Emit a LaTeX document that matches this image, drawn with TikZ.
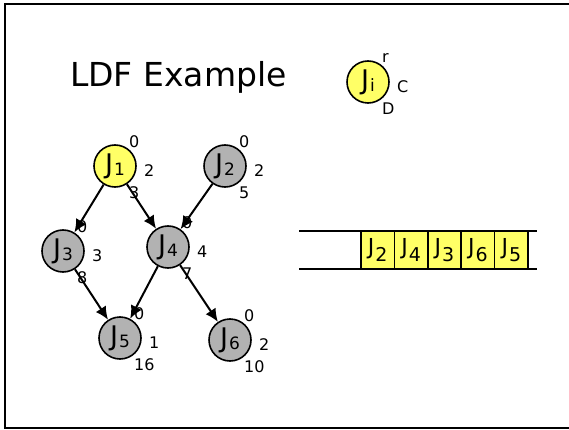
\documentclass[tikz,border=0pt]{standalone}
\usepackage{fontspec}
\setmainfont{DejaVu Sans}
\usepackage{xcolor}
\usetikzlibrary{arrows.meta,calc}
\definecolor{job-yellow}{RGB}{255,255,102}
\definecolor{job-gray}{RGB}{178,178,178}
\tikzstyle{job}=[circle, draw, line width=1.6pt, minimum size=42pt, inner sep=0pt, font=\fontsize{27}{27}\selectfont]
\tikzstyle{ready}=[fill=job-yellow]
\tikzstyle{waiting}=[fill=job-gray]
\tikzstyle{num}=[anchor=west, inner sep=0pt, font=\fontsize{16}{16}\selectfont]
\tikzstyle{dep}=[line width=2pt, -{Latex[length=13pt,width=12pt]}]
\tikzstyle{slot}=[draw, line width=1.5pt, fill=job-yellow, minimum width=33.4pt, minimum height=38pt, inner sep=0pt, font=\fontsize{22}{22}\selectfont]
\newcommand{\jlabel}[3]{J\kern1pt\raisebox{#3}{\fontsize{#2}{#2}\selectfont #1}}
\newcommand{\jobNode}[7]{
	\node[job, #3] (#1) at #2 {\jlabel{#4}{17}{-2pt}};
	\node[num] (#1r) at ($#2+(14,-24)$) {#5};
	\node[num] (#1C) at ($#2+(29,5)$) {#6};
	\node[num] (#1D) at ($#2+(14,27)$) {#7};
}

\begin{document}
\begin{tikzpicture}[x=1pt,y=-1pt]
	\useasboundingbox (0,0) rectangle (569,430);
	\draw[line width=2.2pt] (575,4) -- (5,4) -- (5,428) -- (575,428);
	\node[anchor=base west, inner sep=0pt, font=\fontsize{33}{33}\selectfont] (title) at (70,87) {LDF Example};
	% legend
	\jobNode{Ji}{(368,82)}{ready}{i}{r}{C}{D}
	% precedence graph
	\jobNode{J1}{(115,166)}{ready}{1}{0}{2}{3}
	\jobNode{J2}{(225,166)}{waiting}{2}{0}{2}{5}
	\jobNode{J3}{(63,251)}{waiting}{3}{0}{3}{8}
	\jobNode{J4}{(168,247)}{waiting}{4}{0}{4}{7}
	\jobNode{J5}{(120,338)}{waiting}{5}{0}{1}{16}
	\jobNode{J6}{(230,340)}{waiting}{6}{0}{2}{10}
	\draw[dep] (J1) -- (J3);
	\draw[dep] (J1) -- (J4);
	\draw[dep] (J2) -- (J4);
	\draw[dep] (J3) -- (J5);
	\draw[dep] (J4) -- (J5);
	\draw[dep] (J4) -- (J6);
	% schedule
	\draw[line width=1.6pt] (299,231) -- (537,231);
	\draw[line width=1.6pt] (299,269) -- (537,269);
	\foreach \j [count=\k] in {2,4,3,6,5}
		\node[slot] (q\k) at (344.3+33.4*\k,250) {\jlabel{\j}{19}{-7pt}};
\end{tikzpicture}
\end{document}
